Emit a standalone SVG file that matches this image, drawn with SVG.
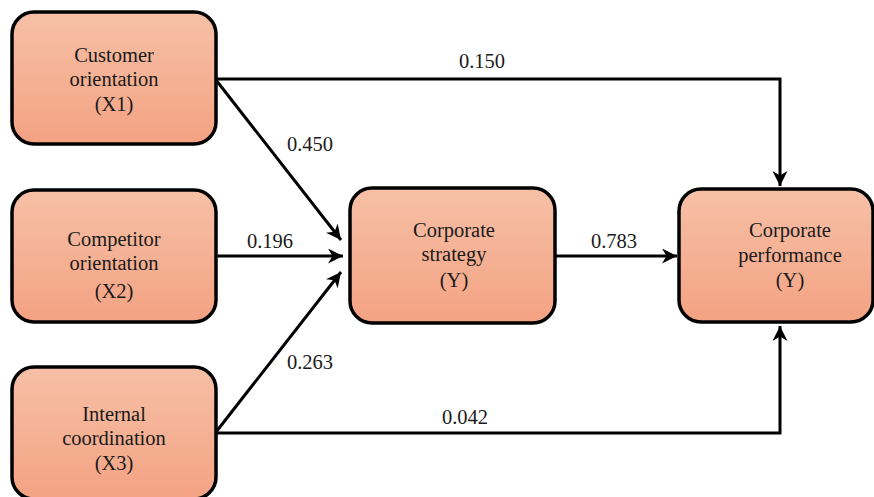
<svg xmlns="http://www.w3.org/2000/svg" width="874" height="497" viewBox="0 0 874 497">
<defs>
<linearGradient id="g" x1="0" y1="0" x2="0" y2="1">
<stop offset="0" stop-color="#f6c0a6"/>
<stop offset="1" stop-color="#f4a283"/>
</linearGradient>
<marker id="arr" viewBox="0 0 10 10" refX="10" refY="5" markerWidth="5" markerHeight="5" markerUnits="strokeWidth" orient="auto">
<path d="M0,0 L10,5 L0,10 L3,5 Z" fill="#000"/>
</marker>
<style>
.box{fill:url(#g);stroke:#000;stroke-width:3.5}
.t{font-family:"Liberation Serif","Times New Roman",serif;font-size:20.5px;fill:#1a1a1a;text-anchor:middle}
.c{fill:none;stroke:#000;stroke-width:3}
</style>
</defs>
<rect width="874" height="497" fill="#fff"/>
<g id="connectors">
<path class="c" d="M216,79 H780 V186" marker-end="url(#arr)"/>
<path class="c" d="M216,80 L341,240" marker-end="url(#arr)"/>
<path class="c" d="M216,256 H343" marker-end="url(#arr)"/>
<path class="c" d="M216,432 L341,272" marker-end="url(#arr)"/>
<path class="c" d="M216,433 H780 V326" marker-end="url(#arr)"/>
<path class="c" d="M555,256 H677" marker-end="url(#arr)"/>
<text class="t" x="482" y="68">0.150</text>
<text class="t" x="310" y="151">0.450</text>
<text class="t" x="270" y="248">0.196</text>
<text class="t" x="614" y="248">0.783</text>
<text class="t" x="310" y="369">0.263</text>
<text class="t" x="465" y="424">0.042</text>
</g>
<g id="x1">
<rect class="box" x="12" y="12" width="204" height="132" rx="22"/>
<text class="t" x="114" y="62">Customer</text>
<text class="t" x="114" y="86">orientation</text>
<text class="t" x="114" y="111">(X1)</text>
</g>
<g id="x2">
<rect class="box" x="12" y="190" width="204" height="132" rx="22"/>
<text class="t" x="114" y="246">Competitor</text>
<text class="t" x="114" y="270">orientation</text>
<text class="t" x="114" y="298">(X2)</text>
</g>
<g id="x3">
<rect class="box" x="12" y="367" width="204" height="132" rx="22"/>
<text class="t" x="114" y="421">Internal</text>
<text class="t" x="114" y="445">coordination</text>
<text class="t" x="114" y="470">(X3)</text>
</g>
<g id="strategy">
<rect class="box" x="350" y="188" width="205" height="135" rx="22"/>
<text class="t" x="454" y="237">Corporate</text>
<text class="t" x="454" y="261">strategy</text>
<text class="t" x="454" y="287">(Y)</text>
</g>
<g id="performance">
<rect class="box" x="679" y="189" width="194" height="133" rx="22"/>
<text class="t" x="790" y="237">Corporate</text>
<text class="t" x="790" y="262">performance</text>
<text class="t" x="790" y="287">(Y)</text>
</g>
</svg>
